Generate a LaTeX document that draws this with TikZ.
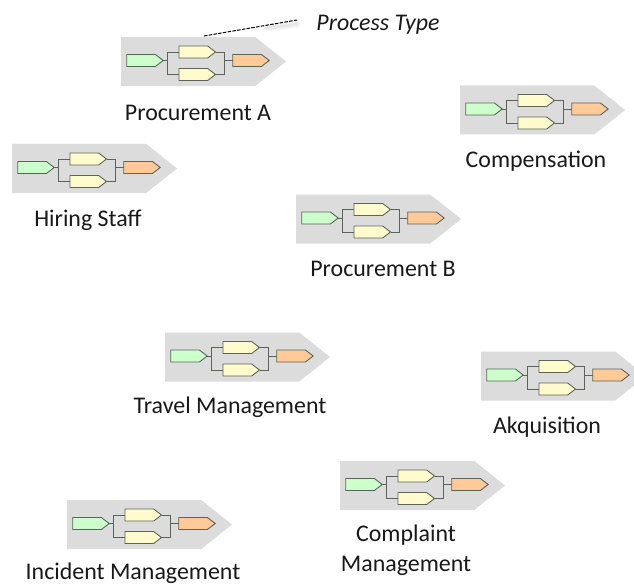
\documentclass[tikz,border=0pt]{standalone}
\usepackage{fontspec}
\setmainfont{Carlito}
\usetikzlibrary{shapes.symbols}
\definecolor{plate}{HTML}{DCDCDC}
\definecolor{stepgreen}{HTML}{CCFFCC}
\definecolor{stepyellow}{HTML}{FFFBCC}
\definecolor{steporange}{HTML}{FFC998}
\definecolor{stepline}{HTML}{5A655A}
\tikzset{
  x=1bp,y=-1bp,
  sig/.style={shape=signal,signal to=east,signal pointer angle=75,inner sep=0pt,outer sep=0pt,anchor=west},
  platebox/.style={sig,fill=plate,minimum width=165bp,minimum height=49bp,signal pointer angle=77},
  stepbox/.style={sig,draw=stepline,line width=0.9bp,minimum width=36.5bp,minimum height=12bp},
  wire/.style={draw=stepline,line width=0.8bp},
  caption/.style={font=\fontsize{24}{30}\selectfont,align=center,inner sep=0pt,text=black!90},
}
\newcommand{\procshape}[5]{%
  \begin{scope}[shift={(#2,#3)}]
    \node[platebox] (#1p) at (0,24.5) {};
    \node[stepbox,fill=stepgreen]  (#1a) at (5.7,23.5) {};
    \node[stepbox,fill=stepyellow] (#1b) at (58,15) {};
    \node[stepbox,fill=stepyellow] (#1c) at (58,37.5) {};
    \node[stepbox,fill=steporange] (#1d) at (111.7,23.5) {};
    \coordinate (#1l) at (46,23.5);
    \coordinate (#1r) at (103.7,23.5);
    \draw[wire] (#1a.east) -- (#1l);
    \draw[wire] (#1l) |- (#1b.west);
    \draw[wire] (#1l) |- (#1c.west);
    \draw[wire] (#1b.east) -| (#1r);
    \draw[wire] (#1c.east) -| (#1r);
    \draw[wire] (#1r) -- (#1d.west);
  \end{scope}
  \node[caption] (#1t) at (#4) {#5};
}
\begin{document}
\begin{tikzpicture}
\useasboundingbox (0,0) rectangle (634,584);
\fill[white] (0,0) rectangle (634,584);
\procshape{pa}{121}{37}{198,113}{Procurement A}
\procshape{co}{460}{85.5}{536,161}{Compensation}
\procshape{hi}{12}{144}{88,220}{Hiring Staff}
\procshape{pb}{296}{194.5}{383,269}{Procurement B}
\procshape{tr}{165}{332.5}{230,407}{Travel Management}
\procshape{ak}{481}{351.5}{547,427}{Akquisition}
\procshape{cm}{340}{461}{406,550}{Complaint\\Management}
\procshape{in}{67}{500}{133,573}{Incident Management}
\node[caption,font=\fontsize{24}{30}\selectfont\itshape] (pt) at (378,25) {Process Type};
\coordinate (lead) at (297,20);
\coordinate (anchor) at (204,36);
\foreach \w in {2,4,6,8}
  \draw[draw=black,opacity=0.025,line width=\w bp,line cap=round] ([shift={(-30,8)}]lead) -- ([shift={(0,4)}]lead);
\draw[dashed,line width=1bp,dash pattern=on 3.5bp off 1.3bp] (anchor) -- (lead);
\end{tikzpicture}
\end{document}
